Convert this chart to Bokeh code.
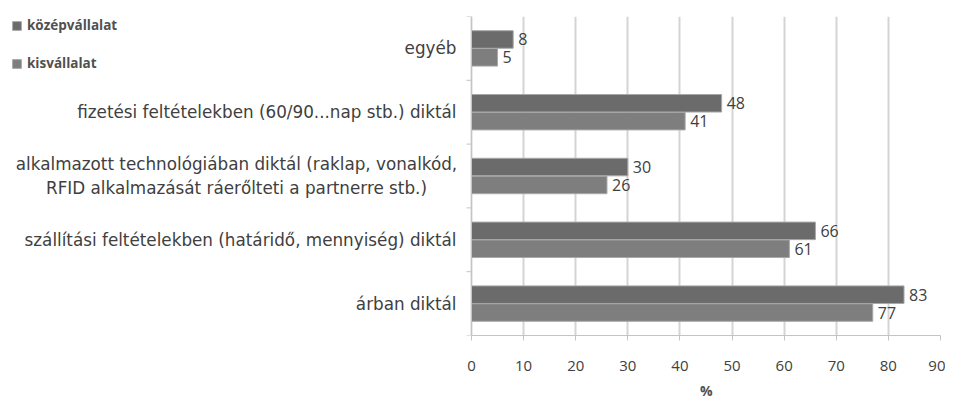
import numpy as np
from bokeh.plotting import figure
from bokeh.models import Range1d, FixedTicker, Legend, LegendItem, ColumnDataSource, Title
from bokeh.embed import file_html
from bokeh.resources import INLINE
from bokeh.core.properties import value

# categories bottom -> top
categories = [
    "árban diktál",
    "szállítási feltételekben (határidő, mennyiség) diktál",
    "alkalmazott technológiában diktál (raklap, vonalkód,\nRFID alkalmazását ráerőlteti a partnerre stb.)",
    "fizetési feltételekben (60/90...nap stb.) diktál",
    "egyéb",
]
kozep = [83, 66, 30, 48, 8]
kis = [77, 61, 26, 41, 5]
series_names = ["középvállalat", "kisvállalat"]
x_ticks = [0, 10, 20, 30, 40, 50, 60, 70, 80, 90]
x_max = 90
x_title = "%"

FONT = "Open Sans"
CAT_FONT = "DejaVu Sans"
TXT = "#404040"
AX = "#c4c4c4"

# layout geometry (pixels)
W, H = 945, 406
left_px = 471      # where 0 sits inside the figure
right_pad = 5
top_pad, bottom_pad = 16, 71
plot_px = W - right_pad - left_px
units_per_px = x_max / plot_px
x_start = -left_px * units_per_px

n = len(categories)
pos = np.arange(n) + 0.5
off = 0.14
bh = 0.275

src_k = ColumnDataSource(dict(y=pos + off, v=kozep, t=[str(v) for v in kozep]))
src_s = ColumnDataSource(dict(y=pos - off, v=kis, t=[str(v) for v in kis]))

p = figure(width=W, height=H, output_backend="svg", toolbar_location=None,
           x_range=Range1d(x_start, x_max), y_range=Range1d(0, n),
           min_border_left=0, min_border_right=right_pad,
           min_border_top=top_pad, min_border_bottom=bottom_pad)
p.outline_line_color = None
p.yaxis.visible = False

p.xgrid.grid_line_color = "#d4d4d4"
p.xgrid.grid_line_width = 2
p.ygrid.grid_line_color = None

r1 = p.hbar(y="y", right="v", left=0, height=bh, source=src_k,
            fill_color="#6b6b6b", line_color="#a8a8a8", line_width=1)
r2 = p.hbar(y="y", right="v", left=0, height=bh, source=src_s,
            fill_color="#7e7e7e", line_color="#a8a8a8", line_width=1)

for src in (src_k, src_s):
    p.text(x="v", y="y", text="t", source=src, x_offset=5,
           text_baseline="middle", text_align="left",
           text_font=value(FONT), text_font_size="16px", text_color=TXT)

# category axis (line, boundary ticks, labels)
bounds = np.arange(n + 1)
tick_len = 5 * units_per_px
p.segment(x0=[0], y0=[0], x1=[0], y1=[n], line_color=AX, line_width=1)
p.segment(x0=np.full(n + 1, -tick_len), y0=bounds, x1=np.zeros(n + 1), y1=bounds,
          line_color=AX, line_width=1)

label_gap = 15
wrapped_line_w = 440   # rendered width of the first line of a wrapped label
cat_align = ["center" if "\n" in c else "right" for c in categories]
cat_xoff = [-(label_gap + wrapped_line_w / 2) if "\n" in c else -label_gap for c in categories]
cat_src = ColumnDataSource(dict(x=np.zeros(n), y=pos, t=categories, a=cat_align, xo=cat_xoff))
p.text(x="x", y="y", text="t", source=cat_src, x_offset="xo",
       text_align="a", text_baseline="middle",
       text_font=value(CAT_FONT), text_font_size="16.8px", text_color=TXT,
       text_line_height=1.2)

# x axis
p.xaxis.ticker = FixedTicker(ticks=x_ticks)
p.xaxis.bounds = (0, x_max)
p.xaxis.axis_line_color = AX
p.xaxis.major_tick_line_color = AX
p.xaxis.major_tick_out = 5
p.xaxis.major_tick_in = 0
p.xaxis.minor_tick_line_color = None
p.xaxis.major_label_standoff = 20
p.xaxis.major_label_text_font = FONT
p.xaxis.major_label_text_font_size = "15px"
p.xaxis.major_label_text_color = TXT

# axis title centred under the 0..90 span (left-aligned title shifted right)
title_offset = left_px + plot_px / 2 - 6
p.add_layout(Title(text=x_title, align="left", offset=title_offset,
                   vertical_align="bottom",
                   text_font=FONT, text_font_size="14px", text_font_style="bold",
                   text_color="#505050", standoff=10), "below")

frame_h = H - top_pad - bottom_pad
item_h, gap = 18, 20
legend_h = 2 * item_h + gap
legend = Legend(items=[LegendItem(label=series_names[0], renderers=[r1]),
                       LegendItem(label=series_names[1], renderers=[r2])],
                location=(11, frame_h - legend_h), orientation="vertical",
                glyph_width=11, glyph_height=11, spacing=gap,
                label_standoff=5, padding=0, margin=0,
                label_text_font=FONT, label_text_font_size="13.5px",
                label_text_font_style="bold", label_text_color="#505050",
                border_line_color=None, background_fill_alpha=0)
p.add_layout(legend, "center")

open("out.html", "w").write(file_html(p, INLINE))
